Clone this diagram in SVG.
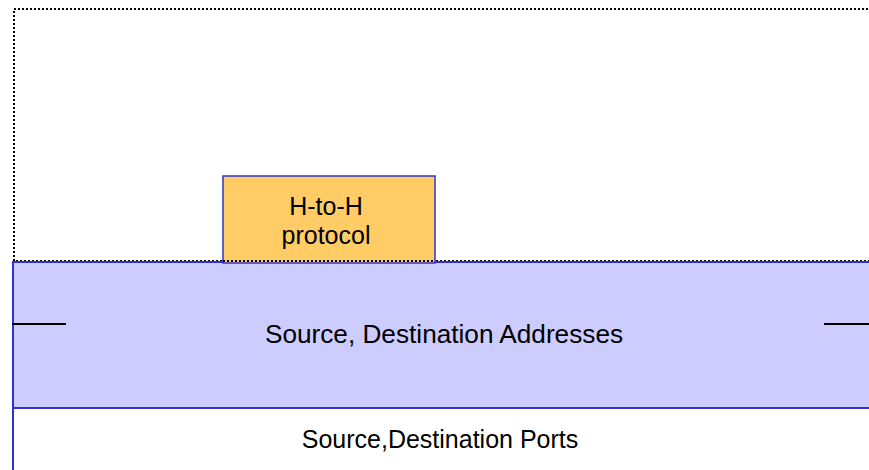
<svg xmlns="http://www.w3.org/2000/svg" width="869" height="470" viewBox="0 0 869 470">
<style>
.t{font-family:"Liberation Sans",Arial,sans-serif;font-size:25px;fill:#000;text-anchor:middle}
.blue{stroke:#3333CC;stroke-width:2}
</style>
<rect width="869" height="470" fill="#fff"/>
<g id="outer">
<rect x="14" y="9" width="870" height="252" fill="none" stroke="#000" stroke-width="2" stroke-dasharray="2,2"/>
</g>
<g id="ports">
<rect x="13" y="408" width="870" height="80" fill="#fff" class="blue"/>
<text class="t" x="440" y="448">Source,Destination Ports</text>
</g>
<g id="addresses">
<rect x="13" y="262" width="870" height="146" fill="#CCCCFF" class="blue"/>
<text class="t" x="444" y="343" style="font-size:26.2px">Source, Destination Addresses</text>
</g>
<g id="connectors">
<line x1="12" y1="324" x2="66" y2="324" stroke="#000" stroke-width="2"/>
<line x1="824" y1="324" x2="869" y2="324" stroke="#000" stroke-width="2"/>
</g>
<g id="h2h">
<rect x="223" y="176" width="212" height="87" fill="#FFCC66" stroke="#3333CC" stroke-width="1.5"/>
<line x1="223" y1="261" x2="435" y2="261" stroke="#000" stroke-width="2" stroke-dasharray="2,2"/>
<text class="t" x="326" y="215">H-to-H</text>
<text class="t" x="326" y="244">protocol</text>
</g>
</svg>
